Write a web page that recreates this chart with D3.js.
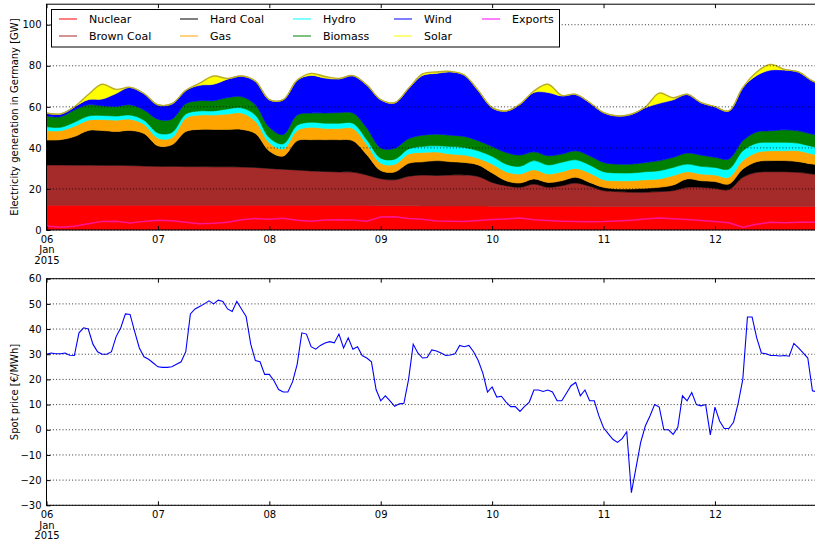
<!DOCTYPE html>
<html>
<head>
<meta charset="utf-8">
<script src="https://cdn.jsdelivr.net/npm/d3@7"></script>
<style>
  body { margin: 0; background: #fff; }
  text { font-family: "DejaVu Sans", sans-serif; fill: #000; }
</style>
</head>
<body>
<svg id="chart" width="815" height="541"></svg>
<script>
// generation, read every 3 hours from 06 Jan 2015 00:00 (GW)
const genHours = [0,3,6,9,12,15,18,21,24,27,30,33,36,39,42,45,48,51,54,57,60,63,66,69,72,75,78,81,84,87,90,93,96,99,102,105,108,111,114,117,120,123,126,129,132,135,138,141,144,147,150,153,156,159,162,165,167];
const nuclear   = [12,12,12,12,12,12,12,12,12,12,12,12,12,12,12,12,12,12,12,12,12,12,12,12,11.8,11.8,11.8,11.7,11.7,11.7,11.7,11.7,11.6,11.6,11.6,11.6,11.6,11.6,11.6,11.5,11.5,11.5,11.5,11.5,11.5,11.5,11.5,11.5,11.5,11.5,11.5,11.5,11.5,11.5,11.5,11.5,11.5];
const brownCoal = [19.7,19.7,19.6,19.6,19.5,19.5,19.4,19.2,19.0,19.0,18.9,18.9,18.8,18.8,18.7,18.5,18.0,17.6,17.2,16.8,16.5,16.3,16.2,14.8,13.2,12.7,14.4,15.1,14.9,15.1,15.1,14.4,11.6,10.0,9.2,10.8,9.2,10.0,11.3,9.8,7.7,7.2,6.9,6.9,7.2,7.7,9.3,9.3,8.8,8.2,14.2,16.6,16.9,16.9,16.6,15.8,15.5];
const hardCoal  = [12.1,12.3,13.9,16.9,17.0,16.5,17.1,15.8,10.0,10.5,17.1,18.1,18.2,18.2,18.3,16.5,8.5,6.4,14.3,15.2,15.5,15.7,15.3,9.9,4.0,3.8,6.3,6.4,7.2,6.5,6.1,5.6,4.6,2.4,2.1,2.5,2.4,2.4,2.8,1.9,1.6,1.3,1.6,1.9,2.1,2.7,4.1,3.2,3.3,2.7,4.0,5.2,5.4,5.4,5.2,4.8,4.8];
const gas       = [4.6,4.4,5.0,5.0,5.3,5.5,5.5,4.5,3.8,3.5,6.5,7.0,7.0,7.5,8.0,6.0,4.0,3.5,5.0,6.0,5.5,5.5,6.0,5.0,3.5,3.7,4.5,4.6,4.2,3.7,3.6,3.2,4.3,4.4,4.4,4.5,4.1,4.4,4.3,4.6,3.7,4.0,4.0,4.2,4.1,4.6,3.5,3.3,3.2,3.3,4.1,4.5,4.8,4.8,5.3,4.9,4.9];
const hydro     = [1.9,1.6,2.0,2.0,2.0,2.0,2.0,2.0,2.5,2.5,2.0,2.0,2.0,2.5,2.5,3.0,2.5,2.5,2.5,2.5,2.5,2.5,2.5,2.3,2.5,2.5,2.5,2.9,3.0,3.7,3.7,3.7,3.8,3.7,3.7,4.4,4.4,4.6,4.2,3.9,3.9,3.8,3.8,3.9,4.0,4.0,3.7,3.7,3.7,4.0,4.8,4.5,4.1,4.1,3.7,3.7,3.6];
const biomass   = [5.2,5.2,6.0,5.5,4.7,4.7,5.0,5.0,6.7,6.5,5.0,5.0,5.0,5.5,5.5,5.0,5.0,4.5,5.0,4.5,5.0,5.2,5.0,5.7,5.0,5.3,5.0,5.5,5.7,5.5,5.4,4.9,4.8,5.7,5.5,4.3,4.5,4.0,4.4,4.5,4.5,4.3,4.3,4.5,4.9,4.9,5.4,5.5,4.9,4.9,4.9,5.5,5.6,6.1,6.0,6.0,5.9];
const wind      = [1.5,1.3,1.5,2.5,3.3,6.3,8.5,8.0,7.0,7.5,6.5,7.5,8.0,9.0,10.0,11.5,13.5,17.0,17.0,18.3,17.0,16.4,18.2,21.0,23.5,22.2,24.5,29.1,29.6,30.8,29.9,24.5,18.9,20.2,24.8,28.9,30.8,28.3,27.5,25.9,24.3,23.5,24.3,26.7,27.9,28.0,28.6,25.6,24.7,23.4,25.9,27.5,29.6,29.1,28.7,25.9,24.8];
const solar     = [0,0,0,2.5,7.2,2.0,0,0,0,0,0,1.0,4.0,0.3,0,0,0,0,0,1.0,0.8,0.2,0,0,0,0,0,0.7,0.7,0.3,0,0,0,0,0,0.7,4.0,0.3,0,0,0,0,0,0.3,5.0,1.0,0,0,0,0,0,1.7,2.8,0.3,0,0,0];
const exportsGW = [2.0,1.3,1.8,3.0,4.2,4.3,3.4,4.2,4.8,4.5,3.8,3.0,3.3,3.8,5.0,5.6,5.2,5.7,4.8,4.3,4.9,5.0,4.9,4.3,6.3,6.4,5.6,5.2,4.4,4.3,4.1,4.6,5.1,5.4,5.8,5.0,4.6,4.3,4.1,4.0,4.1,4.4,4.8,5.3,5.8,5.5,5.1,4.6,4.1,3.5,1.4,2.8,3.8,3.5,3.8,3.8,3.8];

// hourly spot price (EUR/MWh), hour 0 = 06 Jan 2015 00:00
const price = [30,30.5,30.2,30.2,30.5,29.6,29.5,38.5,40.5,40,34,31,30,30,31,37,40.5,46,45.8,39,32.5,29,28,26.5,
  25,24.8,24.8,25,26,27,31,46,48,49,50,51.2,50,51.5,51,48,47,51,48,45,34,27.5,27,22,
  22,19.5,16,15,15,19,26,38.5,38,33,32,33.5,34.5,35,34.5,38,32.5,36.5,32,33,29.5,28.5,27,16,
  11.5,13.5,11.5,9.3,10.3,10.5,20,34,30.5,28.5,28.7,31.7,31.3,30.5,29.5,29.7,30.2,33.5,33,33.5,31,27.5,22.5,15,
  17,13,13.3,11,9.2,9.2,7.3,9.3,11,15.8,15.8,15.2,15.8,15,11.5,11.5,14.5,17.5,18.8,13.5,15.8,11.5,11.5,5.5,
  0.8,-1.5,-3.8,-5,-3.5,-0.8,-25,-15,-5,1.5,5.5,10,9,0,0,-1.8,1,13.5,11.5,14.8,10,9.5,10,-2,
  9,3.5,0.5,0.5,3,10.5,20,44.8,44.8,36.5,30.5,30.2,29.5,29.5,29.3,29.5,29.2,34.3,32.5,30.5,28.5,15.5,15,15];

const genTicks = [0,20,40,60,80,100];
const priceTicks = [-30,-20,-10,0,10,20,30,40,50,60];

const layers = [
  {key: "Nuclear",    values: nuclear,   color: "#ff0000"},
  {key: "Brown Coal", values: brownCoal, color: "#a52a2a"},
  {key: "Hard Coal",  values: hardCoal,  color: "#000000"},
  {key: "Gas",        values: gas,       color: "#ffa500"},
  {key: "Hydro",      values: hydro,     color: "#00ffff"},
  {key: "Biomass",    values: biomass,   color: "#008000"},
  {key: "Wind",       values: wind,      color: "#0000ff"},
  {key: "Solar",      values: solar,     color: "#ffff00"}
];
const exportsColor = "#ff1493";

const t0 = Date.UTC(2015, 0, 6);
const hourDate = h => new Date(t0 + h * 3600e3);

const svg = d3.select("#chart");
const left = 46.5, pxPerHour = 4.642;

const x = d3.scaleUtc()
    .domain([hourDate(0), hourDate(167)])
    .range([left, left + pxPerHour * 167]);

const topPanel = {y: d3.scaleLinear().domain([0, 110]).range([230, 4.2])};
const botPanel = {y: d3.scaleLinear().domain([-30, 60]).range([505.3, 278.7])};

// clip paths
const defs = svg.append("defs");
[["clipTop", topPanel], ["clipBot", botPanel]].forEach(([id, p]) => {
  const r = p.y.range();
  defs.append("clipPath").attr("id", id).append("rect")
      .attr("x", left).attr("y", r[1])
      .attr("width", 900).attr("height", r[0] - r[1]);
});

// ---------- top panel: stacked generation ----------
const rows = genHours.map((h, i) => {
  const r = {date: hourDate(h)};
  layers.forEach(l => r[l.key] = l.values[i]);
  return r;
});
const stack = d3.stack().keys(layers.map(l => l.key));
const series = stack(rows);

const yT = topPanel.y;
const smooth = d3.curveCatmullRom.alpha(0.5);
const area = d3.area()
    .curve(smooth)
    .x(d => x(d.data.date))
    .y0(d => yT(d[0]))
    .y1(d => yT(d[1]));

const gTop = svg.append("g").attr("clip-path", "url(#clipTop)");
gTop.selectAll("path.layer")
  .data(series)
  .join("path")
    .attr("class", "layer")
    .attr("fill", (d, i) => layers[i].color)
    .attr("stroke", (d, i) => layers[i].color)
    .attr("stroke-width", 0.6)
    .attr("d", area);

// edge along the top of the stack
gTop.append("path")
    .datum(series[series.length - 1])
    .attr("fill", "none")
    .attr("stroke", "#b9ac2c")
    .attr("stroke-width", 1.4)
    .attr("d", d3.line().curve(smooth)
        .x(d => x(d.data.date)).y(d => yT(d[1])));

gTop.append("path")
    .datum(exportsGW)
    .attr("fill", "none")
    .attr("stroke", exportsColor)
    .attr("stroke-width", 1.5)
    .attr("d", d3.line()
        .x((d, i) => x(hourDate(genHours[i])))
        .y(d => yT(d)));

// ---------- bottom panel: spot price ----------
const yB = botPanel.y;
const gBot = svg.append("g").attr("clip-path", "url(#clipBot)");
gBot.append("path")
    .datum(price)
    .attr("fill", "none")
    .attr("stroke", "#0000ff")
    .attr("stroke-width", 1.1)
    .attr("d", d3.line()
        .x((d, i) => x(hourDate(i)))
        .y(d => yB(d)));

// ---------- grids, axes, frames ----------
const dayTicks = d3.utcDay.range(hourDate(0), hourDate(168));
const fmtDay = d3.utcFormat("%d");

function drawFrame(y, ticks) {
  const [y0, y1] = y.range();
  // dotted grid
  svg.append("g").selectAll("line")
    .data(ticks)
    .join("line")
      .attr("x1", left).attr("x2", 815)
      .attr("y1", d => y(d)).attr("y2", d => y(d))
      .attr("stroke", "#000")
      .attr("stroke-width", 0.8)
      .attr("stroke-dasharray", "1,2.2");

  const yAxis = svg.append("g")
      .attr("transform", `translate(${left},0)`)
      .call(d3.axisLeft(y).tickValues(ticks)
          .tickSizeInner(-4).tickSizeOuter(0).tickPadding(5)
          .tickFormat(d => d3.format("d")(d).replace("-", "\u2212")));
  yAxis.select(".domain").remove();
  yAxis.selectAll("text").attr("font-size", 10);

  const xAxis = svg.append("g")
      .attr("transform", `translate(0,${y0})`)
      .call(d3.axisBottom(x).tickValues(dayTicks)
          .tickSizeInner(-4).tickSizeOuter(0).tickPadding(7)
          .tickFormat(""));
  xAxis.select(".domain").remove();
  xAxis.selectAll(".tick").append("text")
      .attr("font-size", 10)
      .attr("text-anchor", "middle")
      .each(function(d, i) {
        const lines = i === 0 ? [fmtDay(d), "Jan", "2015"] : [fmtDay(d)];
        d3.select(this).selectAll("tspan")
          .data(lines)
          .join("tspan")
            .attr("x", 0)
            .attr("y", (s, k) => 12.5 + k * 10.8)
            .text(s => s);
      });

  const xTop = svg.append("g")
      .attr("transform", `translate(0,${y1})`)
      .call(d3.axisTop(x).tickValues(dayTicks)
          .tickSizeInner(-4).tickSizeOuter(0).tickFormat(""));
  xTop.select(".domain").remove();

  svg.append("rect")
      .attr("x", left).attr("y", y1)
      .attr("width", 900).attr("height", y0 - y1)
      .attr("fill", "none")
      .attr("stroke", "#000")
      .attr("stroke-width", 1);
}
drawFrame(yT, genTicks);
drawFrame(yB, priceTicks);

// axis titles
svg.append("text")
    .attr("transform", `translate(14,117) rotate(-90)`)
    .attr("text-anchor", "middle")
    .attr("dominant-baseline", "central")
    .attr("font-size", 10)
    .text("Electricity generation in Germany [GW]");
svg.append("text")
    .attr("transform", `translate(14,392) rotate(-90)`)
    .attr("text-anchor", "middle")
    .attr("dominant-baseline", "central")
    .attr("font-size", 10)
    .text("Spot price [€/MWh]");

// ---------- legend ----------
const legendItems = layers.map(l => ({name: l.key, color: l.color}))
    .concat([{name: "Exports", color: "#ff00ff"}]);
const colX = [59, 180, 293, 394, 482];
const rowY = [19, 36];

const legend = svg.append("g");
legend.append("rect")
    .attr("x", 51.5).attr("y", 9.5)
    .attr("width", 508).attr("height", 37.5)
    .attr("fill", "#fff")
    .attr("stroke", "#000")
    .attr("stroke-width", 1);

const entry = legend.selectAll("g.entry")
  .data(legendItems)
  .join("g")
    .attr("class", "entry")
    .attr("transform", (d, i) => `translate(${colX[Math.floor(i / 2)]},${rowY[i % 2]})`);
entry.append("line")
    .attr("x1", 0).attr("x2", 18)
    .attr("stroke", d => d.color)
    .attr("stroke-opacity", 0.5)
    .attr("stroke-width", 2);
entry.append("text")
    .attr("x", 30)
    .attr("dominant-baseline", "central")
    .attr("font-size", 11)
    .text(d => d.name);
</script>
</body>
</html>
